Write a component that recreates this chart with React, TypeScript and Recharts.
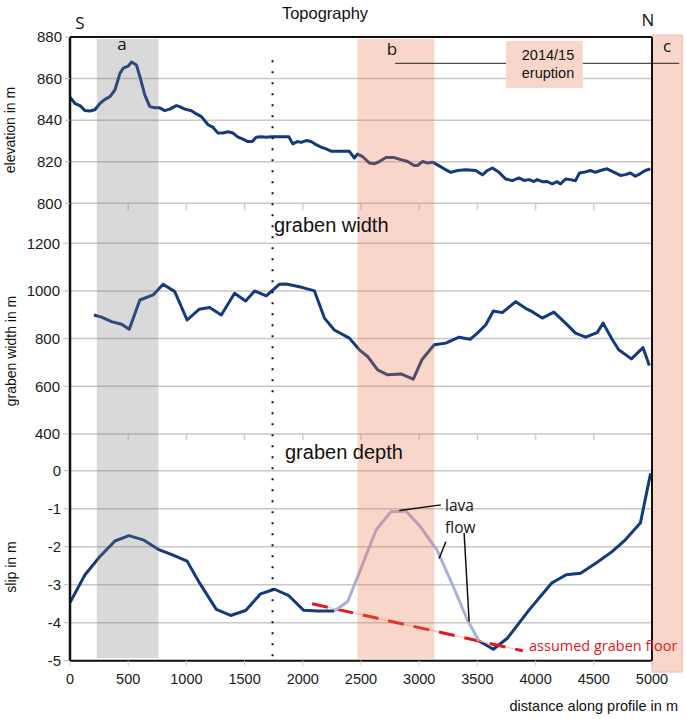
import React from "react";
import { ComposedChart, Line, XAxis, YAxis, ReferenceLine, ReferenceArea } from "recharts";

const distanceTicks = [0, 500, 1000, 1500, 2000, 2500, 3000, 3500, 4000, 4500, 5000];
const elevationTicks = [800, 820, 840, 860, 880];
const widthTicks = [400, 600, 800, 1000, 1200];
const slipTicks = [-5, -4, -3, -2, -1, 0];

// [distance along profile m, elevation m]
const elevation = [
  [0, 851], [43, 848], [86, 847], [129, 844.6], [171, 844.4], [214, 845], [257, 848], [300, 850],
  [343, 851.3], [386, 854.5], [429, 862.5], [457, 865], [500, 866], [529, 868], [571, 866.5],
  [600, 861], [643, 852], [686, 846.5], [729, 846], [766, 846], [814, 844.6], [857, 845.3],
  [914, 847], [943, 846.5], [986, 845.3], [1043, 844.5], [1086, 843], [1129, 841.7], [1186, 837.8],
  [1229, 836.5], [1271, 833.8], [1314, 833.8], [1357, 834.4], [1400, 833.8], [1443, 831.8],
  [1486, 830.9], [1529, 829.7], [1566, 829.7], [1600, 831.8], [1643, 832], [1686, 831.8],
  [1729, 832], [1771, 832], [1814, 832], [1857, 832], [1880, 832], [1914, 828.6], [1952, 829.7],
  [1986, 829.3], [2029, 830.2], [2072, 829.7], [2114, 828.2], [2157, 827], [2200, 826.2],
  [2243, 825.1], [2314, 825.1], [2400, 825], [2443, 821.8], [2471, 823.7], [2514, 822.5],
  [2571, 819.4], [2614, 819], [2657, 820.1], [2714, 822], [2786, 822], [2843, 821], [2900, 820.1],
  [2957, 818.2], [2986, 818.2], [3029, 820.1], [3071, 819.4], [3114, 819.8], [3157, 818.5],
  [3214, 816.6], [3271, 814.9], [3329, 815.8], [3400, 816.2], [3486, 815.8], [3543, 813.7],
  [3586, 815.8], [3629, 817], [3686, 814.9], [3743, 811.7], [3800, 810.9], [3857, 812.2],
  [3900, 811], [3943, 811.4], [3986, 810.5], [4014, 811.4], [4057, 810.4], [4100, 810.5],
  [4143, 809.3], [4186, 810.4], [4214, 809.3], [4257, 811.7], [4300, 811.4], [4343, 810.9],
  [4377, 814.6], [4414, 814.9], [4471, 815.8], [4514, 814.9], [4557, 815.8], [4614, 816.6],
  [4671, 815], [4729, 813.4], [4771, 813.8], [4814, 814.6], [4857, 813], [4900, 814.3],
  [4943, 815.8], [4986, 816.6],
];

// [distance m, graben width m]
const grabenWidth = [
  [206, 899], [271, 890], [357, 871], [443, 860], [509, 839], [600, 962], [714, 983], [800, 1028],
  [900, 997], [1006, 878], [1109, 923], [1200, 930], [1300, 899], [1414, 990], [1509, 958],
  [1586, 1000], [1686, 979], [1800, 1028], [1857, 1029], [1929, 1022], [2000, 1014], [2100, 1000],
  [2186, 886], [2271, 836], [2400, 802], [2486, 753], [2557, 725], [2643, 669], [2729, 648],
  [2843, 652], [2949, 630], [3023, 711], [3129, 774], [3229, 781], [3343, 806], [3437, 797],
  [3500, 823], [3571, 857], [3637, 916], [3714, 909], [3829, 955], [3914, 927], [3971, 913],
  [4057, 886], [4157, 911], [4257, 865], [4343, 823], [4429, 806], [4529, 825], [4580, 865],
  [4657, 797], [4714, 753], [4823, 715], [4923, 762], [4977, 687],
];

// [distance m, slip m] – split where the lava flow covers the graben floor
const slipSouth = [
  [0, -3.47], [129, -2.74], [257, -2.26], [386, -1.85], [506, -1.71], [629, -1.82], [757, -2.07],
  [886, -2.22], [1006, -2.38], [1114, -2.96], [1257, -3.65], [1380, -3.81], [1509, -3.68],
  [1637, -3.24], [1757, -3.12], [1880, -3.29], [2006, -3.67], [2129, -3.69], [2271, -3.69],
];
const slipLava = [
  [2271, -3.69], [2386, -3.44], [2500, -2.57], [2629, -1.56], [2757, -1.08], [2886, -1.06],
  [3014, -1.49], [3157, -2.11], [3300, -3.1], [3414, -3.93], [3514, -4.48],
];
const slipNorth = [
  [3514, -4.48], [3637, -4.7], [3757, -4.41], [3943, -3.67], [4137, -2.96], [4263, -2.74],
  [4386, -2.7], [4514, -2.44], [4657, -2.13], [4771, -1.82], [4900, -1.38], [4988, -0.07],
];
const assumedFloor = [[2080, -3.5], [3890, -4.74]];

// sections along the profile [from, to] in m
const sectionA = [230, 760];
const sectionB = [2470, 3130];
const sectionC = [5000, 5260];
const eruptionLabelSpan = [3746, 4406];
const eruptionLineSpan = [2794, 5234];
const profileSplit = 1740;

const W = 686;
const H = 719;
const DARK = "#123a7c";
const LAVA = "#a9b1d9";
const ELEV_DOMAIN = [580, 880];
const WIDTH_DOMAIN = [-551, 2065];
const SLIP_DOMAIN = [-5, 11.41];

const rows = (pts: number[][]) => pts.map(([d, v]) => ({ d, v }));

const tickFont = { fontSize: 15, fill: "#1a1a1a", fontFamily: "Liberation Sans, Arial" };
const annot = "Open Sans, Noto Sans, sans-serif";
const sans = "Liberation Sans, Arial, sans-serif";

export default function App() {
  // three stacked left axes, 1px wide each, all sitting on the plot's left edge
  const yAxisCommon = {
    type: "number" as const,
    width: 1,
    allowDataOverflow: true,
    interval: 0 as const,
    tick: tickFont,
    tickSize: 5,
    tickMargin: 3,
    tickLine: { stroke: "#bdbdbd" },
  };
  const lineCommon = {
    xAxisId: 0,
    dataKey: "v",
    type: "linear" as const,
    dot: false,
    activeDot: false,
    strokeWidth: 3,
    strokeLinejoin: "round" as const,
    isAnimationActive: false,
  };
  return (
    <div style={{ position: "absolute", left: 0, top: 0, width: W, height: H, background: "#fff" }}>
      <ComposedChart width={W} height={H} margin={{ top: 37, right: 34, bottom: 28.3, left: 67 }}>
        <XAxis
          xAxisId={0}
          dataKey="d"
          type="number"
          domain={[0, 5000]}
          allowDataOverflow
          ticks={distanceTicks}
          interval={0}
          height={30}
          tick={{ ...tickFont, fontSize: 14.5 }}
          tickSize={5}
          tickMargin={8}
          tickLine={{ stroke: "#c8c8c8" }}
          axisLine={{ stroke: "#111", strokeWidth: 2 }}
        />
        <YAxis yAxisId="elev" domain={ELEV_DOMAIN} ticks={elevationTicks} {...yAxisCommon}
          axisLine={{ stroke: "#111", strokeWidth: 2.5 }} />
        <YAxis yAxisId="width" domain={WIDTH_DOMAIN} ticks={widthTicks} {...yAxisCommon} axisLine={false} />
        <YAxis yAxisId="slip" domain={SLIP_DOMAIN} ticks={slipTicks} {...yAxisCommon} axisLine={false} />

        {elevationTicks.map((t) => (
          <ReferenceLine key={"ge" + t} yAxisId="elev" y={t} stroke="#c8c8c8" strokeWidth={1.5} zIndex={-50} />
        ))}
        {widthTicks.map((t) => (
          <ReferenceLine key={"gw" + t} yAxisId="width" y={t} stroke="#c8c8c8" strokeWidth={1.5} zIndex={-50} />
        ))}
        {slipTicks.map((t) => (
          <ReferenceLine key={"gs" + t} yAxisId="slip" y={t} stroke="#c8c8c8" strokeWidth={1.5} zIndex={-50} />
        ))}
        {distanceTicks.slice(1, -1).map((t) => (
          <ReferenceLine key={"te" + t} yAxisId="elev" stroke="#cfcfcf" strokeWidth={1.5} zIndex={-50}
            segment={[{ x: t, y: 800 }, { x: t, y: 796.7 }]} />
        ))}
        {distanceTicks.slice(1, -1).map((t) => (
          <ReferenceLine key={"tw" + t} yAxisId="width" stroke="#cfcfcf" strokeWidth={1.5} zIndex={-50}
            segment={[{ x: t, y: 400 }, { x: t, y: 375 }]} />
        ))}

        <Line {...lineCommon} yAxisId="elev" data={rows(elevation)} stroke={DARK} />
        <Line {...lineCommon} yAxisId="width" data={rows(grabenWidth)} stroke={DARK} />
        <Line {...lineCommon} yAxisId="slip" data={rows(slipSouth)} stroke={DARK} />
        <Line {...lineCommon} yAxisId="slip" data={rows(slipNorth)} stroke={DARK} />
        <Line {...lineCommon} yAxisId="slip" data={rows(assumedFloor)} stroke="#f6b9aa" strokeWidth={1} />
        <Line {...lineCommon} yAxisId="slip" data={rows(assumedFloor)} stroke="#e5161e"
          strokeDasharray="16 10" strokeLinejoin="miter" />
        <Line {...lineCommon} yAxisId="slip" data={rows(slipLava)} stroke={LAVA} />

        <ReferenceArea yAxisId="slip" x1={sectionA[0]} x2={sectionA[1]} y1={-4.93} y2={11.36}
          fill="#777777" fillOpacity={0.28} stroke="none" ifOverflow="visible" zIndex={450} />
        <ReferenceArea yAxisId="slip" x1={sectionB[0]} x2={sectionB[1]} y1={-4.95} y2={11.36}
          fill="#eb7850" fillOpacity={0.3} stroke="none" ifOverflow="visible" zIndex={450} />
        <ReferenceArea yAxisId="slip" x1={sectionC[0]} x2={sectionC[1]} y1={-5.3} y2={11.46}
          fill="#f9d6ca" fillOpacity={1} stroke="#f6b8b8" strokeWidth={1} ifOverflow="visible" zIndex={450} />

        <ReferenceLine yAxisId="slip" segment={[{ x: profileSplit, y: 10.8 }, { x: profileSplit, y: -5 }]}
          stroke="#111" strokeWidth={2} strokeDasharray="2 9" ifOverflow="visible" zIndex={460} />

        <ReferenceLine yAxisId="elev" ifOverflow="visible" stroke="#222" strokeWidth={1} zIndex={470}
          segment={[{ x: eruptionLineSpan[0], y: 867.35 }, { x: eruptionLineSpan[1], y: 867.35 }]} />
        <ReferenceArea yAxisId="elev" x1={eruptionLabelSpan[0]} x2={eruptionLabelSpan[1]} y1={855.5} y2={878.1}
          fill="#f9d6ca" fillOpacity={1} stroke="none" ifOverflow="visible" zIndex={480} />

        <ReferenceLine yAxisId="slip" ifOverflow="visible" stroke="#111" strokeWidth={1.5} zIndex={490}
          segment={[{ x: 3186, y: -0.9 }, { x: 2829, y: -1.05 }]} />
        <ReferenceLine yAxisId="slip" ifOverflow="visible" stroke="#111" strokeWidth={1.5} zIndex={490}
          segment={[{ x: 3229, y: -1.87 }, { x: 3171, y: -2.31 }]} />
        <ReferenceLine yAxisId="slip" ifOverflow="visible" stroke="#111" strokeWidth={1.5} zIndex={490}
          segment={[{ x: 3386, y: -1.64 }, { x: 3429, y: -3.97 }]} />

        <ReferenceLine yAxisId="slip" x={5000} stroke="#111" strokeWidth={2} zIndex={500} />
        <ReferenceLine yAxisId="elev" y={880} stroke="#111" strokeWidth={2} zIndex={500} />
      </ComposedChart>

      <svg width={W} height={H} style={{ position: "absolute", left: 0, top: 0, pointerEvents: "none" }}>
        <text x={325} y={19} textAnchor="middle" fontFamily={sans} fontSize={16.5} fill="#111">Topography</text>
        <text x={80} y={29} textAnchor="middle" fontFamily={annot} fontSize={17} fill="#111">S</text>
        <text x={648} y={26} textAnchor="middle" fontFamily={annot} fontSize={17} fill="#111">N</text>
        <text x={122} y={50} textAnchor="middle" fontFamily={annot} fontSize={17} fill="#111">a</text>
        <text x={392} y={55} textAnchor="middle" fontFamily={annot} fontSize={17} fill="#111">b</text>
        <text x={667} y={52} textAnchor="middle" fontFamily={annot} fontSize={17} fill="#111">c</text>
        <text x={548} y={59.5} textAnchor="middle" fontFamily={sans} fontSize={14.5} fill="#111">2014/15</text>
        <text x={548} y={77.5} textAnchor="middle" fontFamily={sans} fontSize={14.5} fill="#111">eruption</text>
        <text x={274} y={232} fontFamily={sans} fontSize={20} fill="#111">graben width</text>
        <text x={285} y={459} fontFamily={sans} fontSize={20} fill="#111">graben depth</text>
        <text x={445} y={510.5} fontFamily={annot} fontSize={15.5} fill="#111">lava</text>
        <text x={445} y={532.5} fontFamily={annot} fontSize={15.5} fill="#111">flow</text>
        <text x={529} y={651} fontFamily={annot} fontSize={14.5} fill="#e5161e">assumed graben floor</text>
        <text x={678} y={711} textAnchor="end" fontFamily={sans} fontSize={14.5} fill="#111">distance along profile in m</text>
        <text transform="translate(15,130) rotate(-90)" textAnchor="middle" fontFamily={sans} fontSize={14} fill="#111">elevation in m</text>
        <text transform="translate(16,351) rotate(-90)" textAnchor="middle" fontFamily={sans} fontSize={14} fill="#111">graben width in m</text>
        <text transform="translate(16,567) rotate(-90)" textAnchor="middle" fontFamily={sans} fontSize={14} fill="#111">slip in m</text>
      </svg>
    </div>
  );
}
